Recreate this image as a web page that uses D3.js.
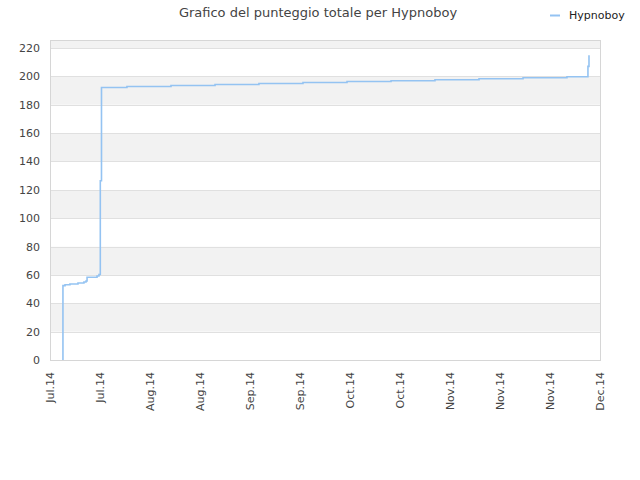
<!DOCTYPE html>
<html>
<head>
<meta charset="utf-8">
<script src="https://cdn.jsdelivr.net/npm/d3@7"></script>
<style>
  body { margin: 0; background: #fff; }
  text { font-family: "DejaVu Sans", sans-serif; }
</style>
</head>
<body>
<div id="chart"></div>
<script>
// dati
const seriesName = "Hypnoboy";
const dates = [
  "2014-07-15 15:00", "2014-07-15 15:00", "2014-07-16 05:00", "2014-07-17 14:00",
  "2014-07-19 20:00", "2014-07-21 12:00", "2014-07-22 02:00", "2014-07-22 09:00",
  "2014-07-25 04:00", "2014-07-25 17:00", "2014-07-26 02:00", "2014-07-26 10:00",
  "2014-08-02 13:00", "2014-08-14 21:00", "2014-08-27 05:00", "2014-09-08 12:00",
  "2014-09-20 20:00", "2014-10-03 04:00", "2014-10-15 12:00", "2014-10-27 19:00",
  "2014-11-09 03:00", "2014-11-21 11:00", "2014-12-03 18:00", "2014-12-09 15:00",
  "2014-12-09 22:00"
];
const values = [
  0, 52.4, 53.1, 53.6,
  54.3, 55.0, 55.7, 58.3,
  59.2, 60.3, 126.4, 192.1,
  192.8, 193.5, 194.2, 194.9,
  195.6, 196.3, 196.9, 197.6,
  198.3, 199.0, 199.7, 207.0,
  214.8
];
const yTicks = [0, 20, 40, 60, 80, 100, 120, 140, 160, 180, 200, 220];
const xStart = "2014-07-12";
const xTickCount = 12;
const xTickDays = 14;

const width = 640, height = 480;
const margin = { top: 40, right: 40, bottom: 120, left: 50 };
const lineColor = "#94c3f2";

const parse = d3.timeParse("%Y-%m-%d %H:%M");
const data = dates.map((d, i) => ({ date: parse(d), value: values[i] }));

const start = d3.timeParse("%Y-%m-%d")(xStart);
const xTickValues = d3.range(xTickCount).map(i => d3.timeDay.offset(start, i * xTickDays));

const svg = d3.select("#chart")
  .append("svg")
  .attr("width", width)
  .attr("height", height);

const x = d3.scaleTime()
  .domain([xTickValues[0], xTickValues[xTickValues.length - 1]])
  .range([margin.left, width - margin.right]);

const y = d3.scaleLinear()
  .domain([0, 225.6])
  .range([height - margin.bottom, margin.top]);

// bande alternate
const bandEdges = yTicks.concat([240]);
svg.append("g")
  .selectAll("rect")
  .data(d3.range(yTicks.length))
  .enter()
  .append("rect")
  .attr("x", margin.left)
  .attr("width", width - margin.right - margin.left)
  .attr("y", i => y(Math.min(bandEdges[i + 1], y.domain()[1])))
  .attr("height", i => y(bandEdges[i]) - y(Math.min(bandEdges[i + 1], y.domain()[1])))
  .attr("fill", i => i % 2 ? "#f2f2f2" : "#ffffff");

// griglia
svg.append("g")
  .selectAll("line")
  .data(yTicks)
  .enter()
  .append("line")
  .attr("x1", margin.left)
  .attr("x2", width - margin.right)
  .attr("y1", d => Math.round(y(d)) + 0.5)
  .attr("y2", d => Math.round(y(d)) + 0.5)
  .attr("stroke", "#e0e0e0");

svg.append("rect")
  .attr("x", margin.left + 0.5)
  .attr("y", margin.top + 0.5)
  .attr("width", width - margin.right - margin.left)
  .attr("height", height - margin.bottom - margin.top)
  .attr("fill", "none")
  .attr("stroke", "#d6d6d6");

// asse y
const yAxis = svg.append("g")
  .attr("transform", `translate(${margin.left},0)`)
  .call(d3.axisLeft(y).tickValues(yTicks).tickSize(0).tickPadding(10));
yAxis.select(".domain").remove();
yAxis.selectAll("text")
  .attr("font-size", "11px")
  .attr("font-family", "DejaVu Sans, sans-serif")
  .attr("fill", "#444");

// asse x
const xAxis = svg.append("g")
  .attr("transform", `translate(0,${height - margin.bottom})`)
  .call(d3.axisBottom(x).tickValues(xTickValues).tickFormat(d3.timeFormat("%b.%y")).tickSize(0));
xAxis.select(".domain").remove();
xAxis.selectAll("text")
  .attr("font-size", "11px")
  .attr("font-family", "DejaVu Sans, sans-serif")
  .attr("fill", "#444")
  .attr("text-anchor", "end")
  .attr("transform", "rotate(-90)")
  .attr("x", -12)
  .attr("y", 0)
  .attr("dy", "0.35em");

// linea
const line = d3.line()
  .x(d => x(d.date))
  .y(d => y(d.value))
  .curve(d3.curveStepAfter);

svg.append("path")
  .datum(data)
  .attr("d", line)
  .attr("fill", "none")
  .attr("stroke", lineColor)
  .attr("stroke-width", 1.6);

// titolo
svg.append("text")
  .attr("x", 318)
  .attr("y", 17)
  .attr("text-anchor", "middle")
  .attr("font-size", "13px")
  .attr("fill", "#444")
  .text("Grafico del punteggio totale per " + seriesName);

// legenda
svg.append("line")
  .attr("x1", 550).attr("x2", 560)
  .attr("y1", 15.5).attr("y2", 15.5)
  .attr("stroke", lineColor)
  .attr("stroke-width", 2);

svg.append("text")
  .attr("x", 569)
  .attr("y", 19)
  .attr("font-size", "11px")
  .attr("fill", "#222")
  .text(seriesName);
</script>
</body>
</html>
